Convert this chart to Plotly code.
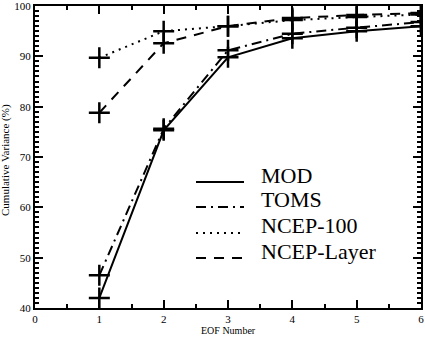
import plotly.graph_objects as go

eof = [1, 2, 3, 4, 5, 6]
mod = [42.0, 75.3, 89.8, 93.6, 95.0, 96.0]
toms = [46.5, 75.6, 91.2, 94.5, 95.7, 96.8]
ncep100 = [89.7, 95.0, 96.0, 97.2, 97.8, 98.3]
ncep_layer = [78.8, 92.6, 96.0, 97.6, 98.2, 98.6]
yticks = [40, 50, 60, 70, 80, 90, 100]

names = ["MOD", "TOMS", "NCEP-100", "NCEP-Layer"]
dashes = ["solid", "10px,5px,2px,5px", "2px,5px", "10px,8px"]
series = [mod, toms, ncep100, ncep_layer]

W, H = 425, 338
ML, MR, MT, MB = 35, 4, 6, 30
PW, PH = W - ML - MR, H - MT - MB


def px2paper(px, py):
    return (px - ML) / PW, (H - MB - py) / PH


fig = go.Figure()
for n, d, s in zip(names, dashes, series):
    fig.add_trace(go.Scatter(
        x=eof, y=s, name=n, mode="lines+markers", showlegend=False,
        line=dict(color="black", width=2, dash=d),
        marker=dict(symbol="cross-thin", size=15, line=dict(color="black", width=2.5)),
    ))

font = "Liberation Serif"
leg_line_y = [182, 207, 233, 258]
leg_text_y = [175, 200, 226, 252]
for n, d, ly, ty in zip(names, dashes, leg_line_y, leg_text_y):
    x0, y0 = px2paper(196, ly)
    x1, _ = px2paper(244, ly)
    fig.add_shape(type="line", xref="paper", yref="paper", x0=x0, x1=x1, y0=y0, y1=y0,
                  line=dict(color="black", width=2, dash=d))
    tx, tyy = px2paper(259, ty)
    fig.add_annotation(text=n, xref="paper", yref="paper", x=tx, y=tyy, xanchor="left",
                       yanchor="middle", showarrow=False, font=dict(size=22, family=font))

fig.update_layout(
    width=W, height=H,
    margin=dict(l=ML, r=MR, t=MT, b=MB, autoexpand=False),
    paper_bgcolor="white", plot_bgcolor="white",
    font=dict(family=font, color="black", size=12),
    showlegend=False,
    xaxis=dict(range=[0, 6], dtick=1, tick0=0, showgrid=False, zeroline=False, automargin=False,
               showline=True, linecolor="black", linewidth=2, mirror="ticks",
               ticks="inside", ticklen=8, tickwidth=2, tickcolor="black",
               tickfont=dict(family=font, size=11), ticklabeloverflow="allow",
               minor=dict(dtick=0.5, ticks="inside", ticklen=4, tickwidth=1.5, tickcolor="black")),
    yaxis=dict(range=[40, 100], tickmode="array", tickvals=yticks, showgrid=False, zeroline=False,
               automargin=False,
               showline=True, linecolor="black", linewidth=2, mirror="ticks",
               ticks="inside", ticklen=8, tickwidth=2, tickcolor="black",
               tickfont=dict(family=font, size=11), ticklabeloverflow="allow",
               minor=dict(dtick=1, tick0=40, ticks="inside", ticklen=4, tickwidth=1.5, tickcolor="black")),
)
ax, ay = px2paper(6, 160)
fig.add_annotation(text="Cumulative Variance (%)", textangle=-90, xref="paper", yref="paper",
                   x=ax, y=ay, xanchor="center", yanchor="middle", showarrow=False,
                   font=dict(size=11, family=font))
fig.add_annotation(text="EOF Number", xref="paper", yref="paper",
                   x=0.5, y=0, yshift=-22, xanchor="center", yanchor="middle", showarrow=False,
                   borderpad=0, font=dict(size=10, family=font))
fig.write_html("out.html")
